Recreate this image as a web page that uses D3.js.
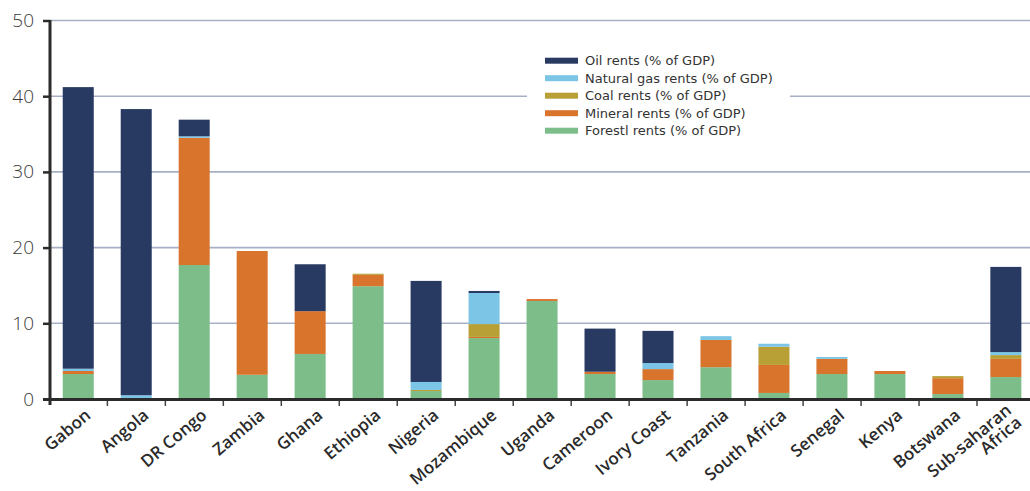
<!DOCTYPE html>
<html><head><meta charset="utf-8">
<script src="https://cdn.jsdelivr.net/npm/d3@7"></script>
<style>body{margin:0;background:#fff}svg{display:block}</style>
</head><body>
<svg id="c" width="1030" height="491"></svg>
<script>
const categories = ["Gabon","Angola","DR Congo","Zambia","Ghana","Ethiopia","Nigeria","Mozambique","Uganda","Cameroon","Ivory Coast","Tanzania","South Africa","Senegal","Kenya","Botswana","Sub-saharan Africa"];
const forest  = [3.3, 0.0, 17.7, 3.2, 5.95, 14.9, 1.05, 8.05, 12.95, 3.3, 2.5, 4.2, 0.8, 3.3, 3.3, 0.65, 2.9];
const mineral = [0.4, 0.0, 16.8, 16.35, 5.65, 1.5, 0.0, 0.15, 0.25, 0.3, 1.45, 3.6, 3.7, 2.0, 0.4, 2.1, 2.4];
const coal    = [0.0, 0.0, 0.0, 0.0, 0.0, 0.15, 0.15, 1.7, 0.0, 0.0, 0.0, 0.0, 2.4, 0.0, 0.0, 0.27, 0.5];
const gas     = [0.3, 0.5, 0.2, 0.0, 0.0, 0.0, 1.05, 4.1, 0.0, 0.0, 0.8, 0.5, 0.4, 0.25, 0.0, 0.0, 0.4];
const oil     = [37.2, 37.8, 2.2, 0.0, 6.2, 0.0, 13.35, 0.27, 0.0, 5.7, 4.25, 0.0, 0.0, 0.0, 0.0, 0.0, 11.25];
const yTicks = [0,10,20,30,40,50];
const seriesNames = ["Oil rents (% of GDP)","Natural gas rents (% of GDP)","Coal rents (% of GDP)","Mineral rents (% of GDP)","Forestl rents (% of GDP)"];
const seriesKeys = ["oil","gas","coal","mineral","forest"];
const colors = {oil:"#283a62", gas:"#7cc5e6", coal:"#b89f36", mineral:"#d9742d", forest:"#7dbd8a"};

const rows = categories.map((c,i)=>({cat:c, forest:forest[i], mineral:mineral[i], coal:coal[i], gas:gas[i], oil:oil[i]}));
const stackOrder = ["forest","mineral","coal","gas","oil"];
const stacked = d3.stack().keys(stackOrder)(rows);

const svg = d3.select("#c");
const x = d3.scaleBand().domain(categories).range([49.4, 1034.7]).paddingInner(0.465).paddingOuter(0.23);
const y = d3.scaleLinear().domain([0,50]).range([399, 20.5]);

// gridlines
svg.append("g").selectAll("line").data(yTicks.filter(t=>t>0)).join("line")
  .attr("x1",50).attr("x2",1030).attr("y1",d=>y(d)).attr("y2",d=>y(d))
  .attr("stroke","#a7b1c6").attr("stroke-width",1.6);

// legend background
const lg = svg.append("g");
lg.append("rect").attr("x",527).attr("y",47).attr("width",263).attr("height",95).attr("fill","#fff");

// bars
svg.append("g").selectAll("g").data(stacked).join("g").attr("fill",d=>colors[d.key])
  .selectAll("rect").data(d=>d).join("rect")
  .attr("x",d=>x(d.data.cat)).attr("width",x.bandwidth())
  .attr("y",d=>y(d[1])).attr("height",d=>Math.max(0,y(d[0])-y(d[1])));

// y axis
const yAxis = d3.axisLeft(y).tickValues(yTicks).tickSize(7).tickPadding(9);
const ga = svg.append("g").attr("transform","translate(50,0)").call(yAxis);
ga.select(".domain").remove();
ga.selectAll(".tick line").attr("stroke","#2b2b2b").attr("stroke-width",2.5);
ga.selectAll(".tick text").attr("font-family","'Open Sans', sans-serif").attr("font-size",19).attr("fill","#3a3a3a").attr("font-weight",300);
svg.append("line").attr("x1",50).attr("x2",50).attr("y1",20).attr("y2",405).attr("stroke","#2b2b2b").attr("stroke-width",3);

// x axis
const step = x.step();
const xTickPos = d3.range(1, categories.length).map(i=>x.range()[0] + i*step);
svg.append("g").selectAll("line").data(xTickPos).join("line")
  .attr("x1",d=>d).attr("x2",d=>d).attr("y1",399).attr("y2",406)
  .attr("stroke","#444").attr("stroke-width",1.5);
svg.append("line").attr("x1",43).attr("x2",1030).attr("y1",399.5).attr("y2",399.5).attr("stroke","#2b2b2b").attr("stroke-width",3);

const xl = svg.append("g").selectAll("text").data(categories).join("text")
  .attr("transform",d=>`translate(${x(d)+x.bandwidth()/2+6},${408}) rotate(-40)`)
  .attr("text-anchor","end").attr("font-family","'Open Sans', sans-serif").attr("font-weight",600)
  .attr("font-size",17).attr("fill","#2a2a2a");
xl.each(function(d){
  const t = d3.select(this);
  const parts = d==="Sub-saharan Africa" ? ["Sub-saharan","Africa"] : [d];
  parts.forEach((p,i)=>t.append("tspan").attr("x",0).attr("dy", i===0 ? "0.7em" : "0.95em").text(p));
});
xl.filter(d=>d==="Sub-saharan Africa").attr("transform",d=>`translate(${x(d)+x.bandwidth()/2-1},${403}) rotate(-40)`);

// legend
seriesKeys.forEach((k,i)=>{
  const yy = 60.7 + i*17.5;
  lg.append("rect").attr("x",545).attr("y",yy-3).attr("width",33).attr("height",6).attr("fill",colors[k]);
  lg.append("text").attr("x",585).attr("y",yy).attr("dy","0.36em").attr("font-family","'DejaVu Sans', sans-serif")
    .attr("font-size",13).attr("fill","#333").text(seriesNames[i]);
});
</script>
</body></html>
